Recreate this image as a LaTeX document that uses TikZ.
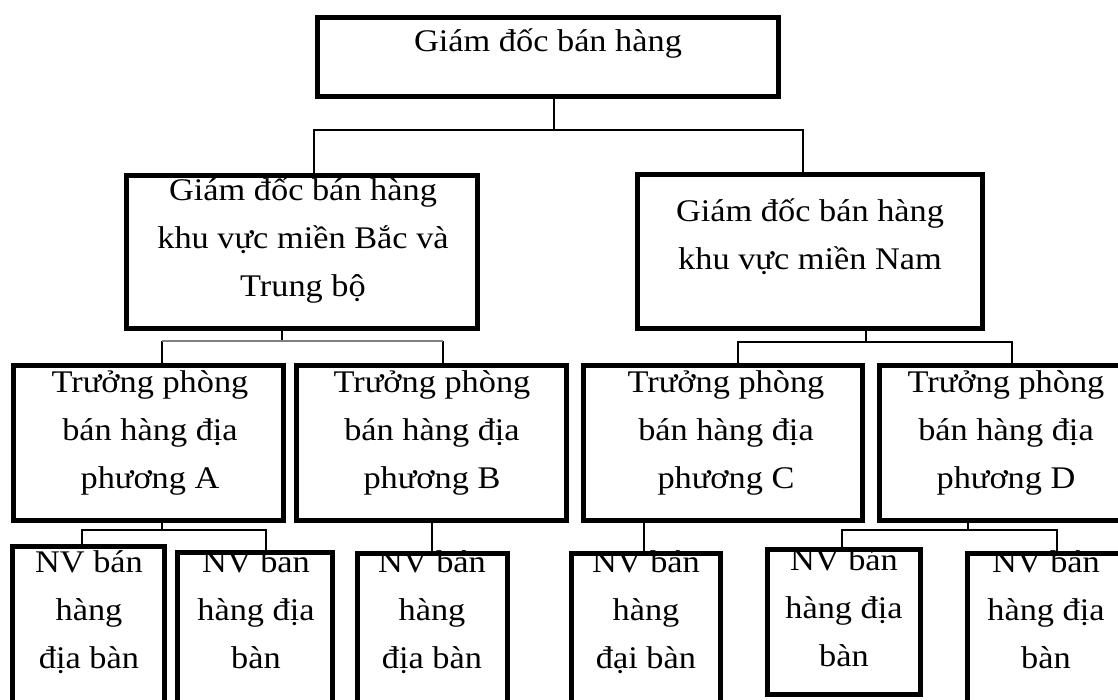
\documentclass[tikz,border=0pt]{standalone}
\usepackage{fontspec}
\setmainfont{Liberation Serif}[FakeStretch=1.09]
\usetikzlibrary{fit}

\tikzset{
  box/.style={draw, line width=5pt, inner sep=0pt},
  lbl/.style={align=center, anchor=base, inner sep=0pt, font=\fontsize{31.5}{48}\selectfont},
  link/.style={line width=2pt},
}

\begin{document}
\begin{tikzpicture}[x=1pt, y=-1pt]
	\def\bx#1#2#3#4#5{\node[box, fit={(#2,#3) (#4,#5)}] (#1) {};}
	\useasboundingbox (0,0) rectangle (1118,700);
	% top level
	\bx{gd}{317.5}{17.5}{778.5}{96.5}
	\node[lbl] (gdT) at (548,52) {Giám đốc bán hàng};
	% regional directors
	\bx{mb}{126.5}{175.5}{477.5}{328.5}
	\node[lbl] (mbT) at (303,297) {Giám đốc bán hàng\\khu vực miền Bắc và\\Trung bộ};
	\bx{mn}{637.5}{174.5}{982.5}{328.5}
	\node[lbl] (mnT) at (810,270) {Giám đốc bán hàng\\khu vực miền Nam};
	% local managers
	\bx{pA}{13.5}{365.5}{283.5}{520.5}
	\bx{pB}{296.5}{365.5}{566.5}{520.5}
	\bx{pC}{583.5}{365.5}{862.5}{520.5}
	\bx{pD}{879.5}{365.5}{1132.5}{520.5}
	\node[lbl] (pAT) at (150,488) {Trưởng phòng\\bán hàng địa\\phương A};
	\node[lbl] (pBT) at (432,488) {Trưởng phòng\\bán hàng địa\\phương B};
	\node[lbl] (pCT) at (726,488) {Trưởng phòng\\bán hàng địa\\phương C};
	\node[lbl] (pDT) at (1006,488) {Trưởng phòng\\bán hàng địa\\phương D};
	% sales staff
	\bx{nv1}{12.5}{546.5}{164.5}{702}
	\bx{nv2}{177.5}{552.5}{332.5}{702}
	\bx{nv3}{357.5}{553.5}{507.5}{702}
	\bx{nv4}{571.5}{553.5}{720.5}{702}
	\bx{nv5}{767.5}{549.5}{920.5}{694.5}
	\bx{nv6}{967.5}{553.5}{1124.5}{702}
	\node[lbl] (nv1T) at (89,668) {NV bán\\hàng\\địa bàn};
	\node[lbl] (nv2T) at (256,668) {NV bán\\hàng địa\\bàn};
	\node[lbl] (nv3T) at (432,668) {NV bán\\hàng\\địa bàn};
	\node[lbl] (nv4T) at (646,668) {NV bán\\hàng\\đại bàn};
	\node[lbl] (nv5T) at (844,666) {NV bán\\hàng địa\\bàn};
	\node[lbl] (nv6T) at (1046,668) {NV bán\\hàng địa\\bàn};
	% connectors
	\draw[link] ([xshift=6pt]gd.south) -- ++(0,31) coordinate (j0);
	\draw[link] ([xshift=12pt]mb.north) |- (j0) -| ([xshift=-7pt]mn.north);
	\draw[link] ([xshift=-20pt]mb.south) -- ++(0,11) coordinate (j1);
	\draw[link] ([xshift=13.5pt]pA.north) -- ++(0,-22) coordinate (j1a);
	\draw[link] ([xshift=11.5pt]pB.north) -- ++(0,-22) coordinate (j1b);
	\draw[link, black!50] (j1a) -- (j1b);
	\draw[link] ([xshift=56pt]mn.south) -- ++(0,11) coordinate (j2);
	\draw[link] ([xshift=15pt]pC.north) |- (j2) -| ([xshift=6pt]pD.north);
	\draw[link] ([xshift=13.5pt]pA.south) -- ++(0,7) coordinate (j3);
	\draw[link] ([xshift=-6.5pt]nv1.north) |- (j3) -| ([xshift=11pt]nv2.north);
	\draw[link] (pB.south) -- (pB.south |- nv3.north);
	\draw[link] ([xshift=-2pt]nv4.north) -- ++(0,-28);
	\draw[link] ([xshift=-38pt]pD.south) -- ++(0,7) coordinate (j4);
	\draw[link] ([xshift=-2pt]nv5.north) |- (j4) -| ([xshift=11pt]nv6.north);
\end{tikzpicture}
\end{document}
